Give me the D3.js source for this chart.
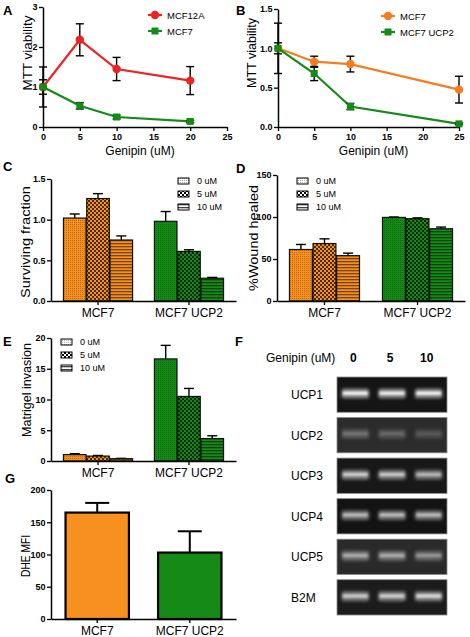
<!DOCTYPE html>
<html><head><meta charset="utf-8">
<script src="https://cdn.jsdelivr.net/npm/d3@7"></script>
<style>body{margin:0;background:#fff}svg{display:block}</style>
</head><body><svg id="c" width="470" height="637"></svg>
<script>
// ---------- DATA ----------
// Panel A
const doseA = [0, 5, 10, 20];
const mcf12aA = [1.0, 2.18, 1.45, 1.16];
const mcf12aAErr = [0.5, 0.4, 0.29, 0.35];
const mcf7A = [1.0, 0.53, 0.25, 0.14];
const mcf7AErr = [0.18, 0.08, 0.05, 0.03];
const xTicksLine = [0, 5, 10, 15, 20, 25];
const yTicksA = [0, 1, 2, 3];
// Panel B
const doseB = [0, 5, 10, 25];
const mcf7B = [1.0, 0.83, 0.80, 0.475];
const mcf7BErr = [0.07, 0.07, 0.1, 0.17];
const ucp2B = [1.0, 0.68, 0.26, 0.04];
const ucp2BErr = [0.32, 0.09, 0.04, 0.01];
const yTicksB = [0, 0.5, 1.0, 1.5];
// Bar panels
const groups = ["MCF7", "MCF7 UCP2"];
const doses = ["0 uM", "5 uM", "10 uM"];
const survC = [[1.02, 1.26, 0.75], [0.98, 0.61, 0.28]];
const survCErr = [[0.05, 0.06, 0.05], [0.12, 0.02, 0.01]];
const yTicksC = [0, 0.5, 1.0, 1.5];
const woundD = [[61.3, 68.4, 54], [99.5, 98, 86]];
const woundDErr = [[6, 5.6, 3], [0.5, 1, 2]];
const yTicksD = [0, 50, 100, 150];
const invE = [[1.04, 0.8, 0.38], [16.6, 10.5, 3.65]];
const invEErr = [[0.15, 0.1, 0.05], [2.2, 1.3, 0.45]];
const yTicksE = [0, 5, 10, 15, 20];
const dheG = [165, 103];
const dheGErr = [15, 33];
const yTicksG = [0, 50, 100, 150, 200];
// Panel F (gel)
const genes = ["UCP1", "UCP2", "UCP3", "UCP4", "UCP5", "B2M"];
const lanes = ["0", "5", "10"];
const bandIntensity = [
  [0.95, 0.93, 0.95],
  [0.35, 0.30, 0.22],
  [0.80, 0.78, 0.70],
  [0.72, 0.72, 0.72],
  [0.62, 0.62, 0.52],
  [0.78, 0.80, 0.85]
];
const gelBackground = ["#151515", "#2c2c2c", "#181818", "#131313", "#2a2a2a", "#1c1c1c"];

// ---------- DRAWING ----------
const FONT = '"Liberation Sans", Arial, Helvetica, sans-serif';
const ORANGE = "#f7901e", GREEN = "#168a16", RED = "#ee2222", LORANGE = "#f57d20";
const svg = d3.select("#c");
const defs = svg.append("defs");

function styleAxis(g, fs, bold) {
  g.select(".domain").attr("stroke", "#000").attr("stroke-width", 1.5);
  g.selectAll(".tick line").attr("stroke", "#000").attr("stroke-width", 1.3);
  g.selectAll(".tick text").attr("font-family", FONT).attr("font-size", fs)
    .attr("font-weight", bold ? "bold" : "normal").attr("fill", "#000");
}
function txt(x, y, s, o = {}) {
  const t = svg.append("text").attr("x", x).attr("y", y).text(s)
    .attr("font-family", FONT).attr("font-size", o.fs || 12)
    .attr("font-weight", o.bold ? "bold" : "normal")
    .attr("text-anchor", o.anchor || "start").attr("fill", o.fill || "#000");
  return t;
}
function yLabel(cx, cy, s, len) {
  svg.append("text").attr("transform", `translate(${cx},${cy}) rotate(-90)`)
    .attr("text-anchor", "middle").attr("dy", "0.35em").text(s)
    .attr("font-family", FONT).attr("font-size", 12)
    .attr("textLength", len).attr("lengthAdjust", "spacingAndGlyphs");
}
function panelLetter(x, y, s) { txt(x, y, s, { fs: 13, bold: true }); }

// ----- patterns -----
function makePatterns(id, base, dark) {
  let p = defs.append("pattern").attr("id", id + "0").attr("patternUnits", "userSpaceOnUse").attr("width", 2).attr("height", 2);
  p.append("rect").attr("width", 2).attr("height", 2).attr("fill", base);
  p.append("rect").attr("width", 1).attr("height", 1).attr("fill", dark).attr("opacity", 0.35);
  p = defs.append("pattern").attr("id", id + "1").attr("patternUnits", "userSpaceOnUse").attr("width", 4).attr("height", 4);
  p.append("rect").attr("width", 4).attr("height", 4).attr("fill", base);
  p.append("rect").attr("width", 2).attr("height", 2).attr("fill", dark);
  p.append("rect").attr("x", 2).attr("y", 2).attr("width", 2).attr("height", 2).attr("fill", dark);
  p = defs.append("pattern").attr("id", id + "2").attr("patternUnits", "userSpaceOnUse").attr("width", 3).attr("height", 3);
  p.append("rect").attr("width", 3).attr("height", 3).attr("fill", base);
  p.append("rect").attr("width", 3).attr("height", 1.3).attr("fill", dark).attr("opacity", 0.75);
}
makePatterns("po", ORANGE, "#4a2a00");
makePatterns("pg", GREEN, "#022a02");
makePatterns("pl", "#ffffff", "#000000");

function yAxis(g, x0, y, ticks, fmt) {
  const a = g.append("g").attr("transform", `translate(${x0},0)`)
    .call(d3.axisLeft(y).tickValues(ticks).tickFormat(fmt).tickSize(4).tickPadding(1.5).tickSizeOuter(0));
  styleAxis(a, 9, true);
}

// ----- line panels -----
function linePanel(o) {
  const x = d3.scaleLinear().domain([0, 25]).range(o.xr);
  const y = d3.scaleLinear().domain(o.yd).range(o.yr);
  const g = svg.append("g");
  yAxis(g, o.xr[0], y, o.yt, o.yf);
  const xa = g.append("g").attr("transform", `translate(0,${o.yr[0]})`)
    .call(d3.axisBottom(x).tickValues(xTicksLine).tickSize(4).tickSizeOuter(0));
  styleAxis(xa, 9, true);
  o.series.forEach(s => {
    const pts = s.x.map((d, i) => ({ x: d, y: s.y[i], e: s.e[i] }));
    g.append("path").datum(pts).attr("d", d3.line().x(d => x(d.x)).y(d => y(d.y)))
      .attr("fill", "none").attr("stroke", s.color).attr("stroke-width", 2.2);
    pts.forEach(p => {
      const px = x(p.x), y1 = y(p.y + p.e), y2 = y(p.y - p.e);
      g.append("line").attr("x1", px).attr("x2", px).attr("y1", y1).attr("y2", y2).attr("stroke", "#000").attr("stroke-width", 1.4);
      [y1, y2].forEach(yy => g.append("line").attr("x1", px - 4).attr("x2", px + 4).attr("y1", yy).attr("y2", yy).attr("stroke", "#000").attr("stroke-width", 1.4));
    });
    pts.forEach(p => marker(g, x(p.x), y(p.y), s.shape, s.color));
  });
  o.series.forEach((s, i) => {
    const ly = o.leg[1] + i * 16;
    g.append("line").attr("x1", o.leg[0] - 7).attr("x2", o.leg[0] + 7).attr("y1", ly).attr("y2", ly).attr("stroke", s.color).attr("stroke-width", 2.2);
    marker(g, o.leg[0], ly, s.shape, s.color);
    txt(o.leg[0] + 12, ly + 3.5, s.name, { fs: 9.5 });
  });
  txt((o.xr[0] + o.xr[1]) / 2 + 5, 155, "Genipin (uM)", { fs: 12, anchor: "middle" });
}
function marker(g, cx, cy, shape, color) {
  if (shape === "circle") g.append("circle").attr("cx", cx).attr("cy", cy).attr("r", 4.2).attr("fill", color);
  else g.append("rect").attr("x", cx - 3.5).attr("y", cy - 3.5).attr("width", 7).attr("height", 7).attr("fill", color);
}

linePanel({
  xr: [43, 227], yr: [127, 7], yd: [0, 3], yt: yTicksA, yf: d3.format("d"), leg: [155, 15],
  series: [
    { name: "MCF12A", x: doseA, y: mcf12aA, e: mcf12aAErr, color: RED, shape: "circle" },
    { name: "MCF7", x: doseA, y: mcf7A, e: mcf7AErr, color: GREEN, shape: "square" }
  ]
});
linePanel({
  xr: [278, 459], yr: [127, 9], yd: [0, 1.5], yt: yTicksB, yf: d3.format(".1f"), leg: [388, 16],
  series: [
    { name: "MCF7", x: doseB, y: mcf7B, e: mcf7BErr, color: LORANGE, shape: "circle" },
    { name: "MCF7 UCP2", x: doseB, y: ucp2B, e: ucp2BErr, color: GREEN, shape: "square" }
  ]
});
panelLetter(3, 15, "A");
panelLetter(236, 15, "B");
yLabel(28, 53, "MTT viability", 75);
yLabel(252, 53, "MTT viability", 70);

// ----- grouped bar panels -----
function barPanel(o) {
  const x0 = d3.scaleBand().domain(groups).range(o.xr).paddingInner(o.pi).paddingOuter(o.po);
  const x1 = d3.scaleBand().domain(doses).range([0, x0.bandwidth()]).paddingInner(0.03);
  const y = d3.scaleLinear().domain(o.yd).range(o.yr);
  const g = svg.append("g");
  groups.forEach((gr, gi) => {
    doses.forEach((ds, di) => {
      const v = o.vals[gi][di], e = o.err[gi][di];
      const bx = x0(gr) + x1(ds), bw = x1.bandwidth(), cx = bx + bw / 2;
      g.append("line").attr("x1", cx).attr("x2", cx).attr("y1", y(v)).attr("y2", y(v + e)).attr("stroke", "#000").attr("stroke-width", 1.4);
      g.append("line").attr("x1", cx - 5).attr("x2", cx + 5).attr("y1", y(v + e)).attr("y2", y(v + e)).attr("stroke", "#000").attr("stroke-width", 1.4);
      g.append("rect").attr("x", bx).attr("y", y(v)).attr("width", bw).attr("height", y(0) - y(v))
        .attr("fill", `url(#${gi === 0 ? "po" : "pg"}${di})`).attr("stroke", "#111").attr("stroke-width", 1.2);
    });
  });
  yAxis(g, o.xr[0], y, o.yt, o.yf);
  const xa = g.append("g").attr("transform", `translate(0,${o.yr[0]})`)
    .call(d3.axisBottom(x0).tickSize(4).tickSizeOuter(0));
  styleAxis(xa, 12, false);
  doses.forEach((ds, i) => {
    const ly = o.leg[1] + i * 13;
    g.append("rect").attr("x", o.leg[0]).attr("y", ly - 3).attr("width", 11).attr("height", 6)
      .attr("fill", `url(#pl${i})`).attr("stroke", "#000").attr("stroke-width", 1);
    txt(o.leg[0] + 19, ly + 3.3, ds, { fs: 9 });
  });
}
barPanel({ xr: [51, 236], pi: 0.24, po: 0.137, yr: [301, 179], yd: [0, 1.5], yt: yTicksC, yf: d3.format(".1f"),
  vals: survC, err: survCErr, leg: [178, 181] });
barPanel({ xr: [277, 465], pi: 0.247, po: 0.134, yr: [301, 175], yd: [0, 150], yt: yTicksD, yf: d3.format("d"),
  vals: woundD, err: woundDErr, leg: [297, 181] });
barPanel({ xr: [51, 236], pi: 0.24, po: 0.137, yr: [461, 338], yd: [0, 20], yt: yTicksE, yf: d3.format("d"),
  vals: invE, err: invEErr, leg: [61, 342] });
panelLetter(3, 171, "C");
panelLetter(236, 173, "D");
panelLetter(3, 346, "E");
yLabel(26, 242, "Surviving fraction", 112);
yLabel(254, 238, "%Wound healed", 106);
yLabel(27, 390, "Matrigel invasion", 94);

// ----- panel G -----
(function () {
  const x = d3.scaleBand().domain(groups).range([51, 236]).paddingInner(0.315).paddingOuter(0.157);
  const y = d3.scaleLinear().domain([0, 200]).range([619, 490]);
  const g = svg.append("g");
  const cols = [ORANGE, GREEN];
  groups.forEach((gr, i) => {
    const bx = x(gr), bw = x.bandwidth(), cx = bx + bw / 2, v = dheG[i], e = dheGErr[i];
    g.append("line").attr("x1", cx).attr("x2", cx).attr("y1", y(v)).attr("y2", y(v + e)).attr("stroke", "#000").attr("stroke-width", 2);
    g.append("line").attr("x1", cx - 12).attr("x2", cx + 12).attr("y1", y(v + e)).attr("y2", y(v + e)).attr("stroke", "#000").attr("stroke-width", 2);
    g.append("rect").attr("x", bx).attr("y", y(v)).attr("width", bw).attr("height", y(0) - y(v))
      .attr("fill", cols[i]).attr("stroke", "#000").attr("stroke-width", 2.2);
  });
  yAxis(g, 51, y, yTicksG, d3.format("d"));
  const xa = g.append("g").attr("transform", "translate(0,619)")
    .call(d3.axisBottom(x).tickSize(4).tickSizeOuter(0));
  styleAxis(xa, 12, false);
})();
panelLetter(5, 483, "G");
yLabel(26, 556, "DHE MFI", 42);

// ----- panel F (gel) -----
panelLetter(235, 346, "F");
(function () {
  const lx = d3.scaleBand().domain(lanes).range([337, 447]);
  const gy = d3.scaleBand().domain(genes).range([377, 615]).paddingInner(0.13);
  txt(266, 362, "Genipin (uM)", { fs: 12 });
  lanes.forEach(l => txt(lx(l) + lx.bandwidth() / 2 - 2, 362, l, { fs: 12, bold: true, anchor: "middle" }));
  const f = defs.append("filter").attr("id", "blur").attr("x", "-50%").attr("y", "-150%").attr("width", "200%").attr("height", "400%");
  f.append("feGaussianBlur").attr("stdDeviation", 1.8);
  const f2 = defs.append("filter").attr("id", "blur2").attr("x", "-50%").attr("y", "-150%").attr("width", "200%").attr("height", "400%");
  f2.append("feGaussianBlur").attr("stdDeviation", 0.8);
  genes.forEach((gn, gi) => {
    const y0 = gy(gn), h = gy.bandwidth(), bg = gelBackground[gi];
    svg.append("rect").attr("x", 337).attr("y", y0).attr("width", 110).attr("height", h)
      .attr("fill", bg).attr("stroke", "#8a8a8a").attr("stroke-width", 0.8);
    txt(291, y0 + h / 2 + 4.5, gn, { fs: 12 });
    const by = y0 + h * 0.47;
    lanes.forEach((l, li) => {
      const v = bandIntensity[gi][li];
      const cx = lx(l) + lx.bandwidth() / 2;
      const glow = d3.interpolateRgb(bg, "#ffffff")(v * 0.5);
      const core = d3.interpolateRgb(bg, "#ffffff")(v);
      svg.append("rect").attr("x", cx - 14).attr("y", by - 5).attr("width", 28).attr("height", 10).attr("rx", 3)
        .attr("fill", glow).attr("filter", "url(#blur)");
      svg.append("rect").attr("x", cx - 12.5).attr("y", by - 2).attr("width", 25).attr("height", 3.5).attr("rx", 1.5)
        .attr("fill", core).attr("filter", "url(#blur2)");
    });
  });
})();
</script></body></html>
